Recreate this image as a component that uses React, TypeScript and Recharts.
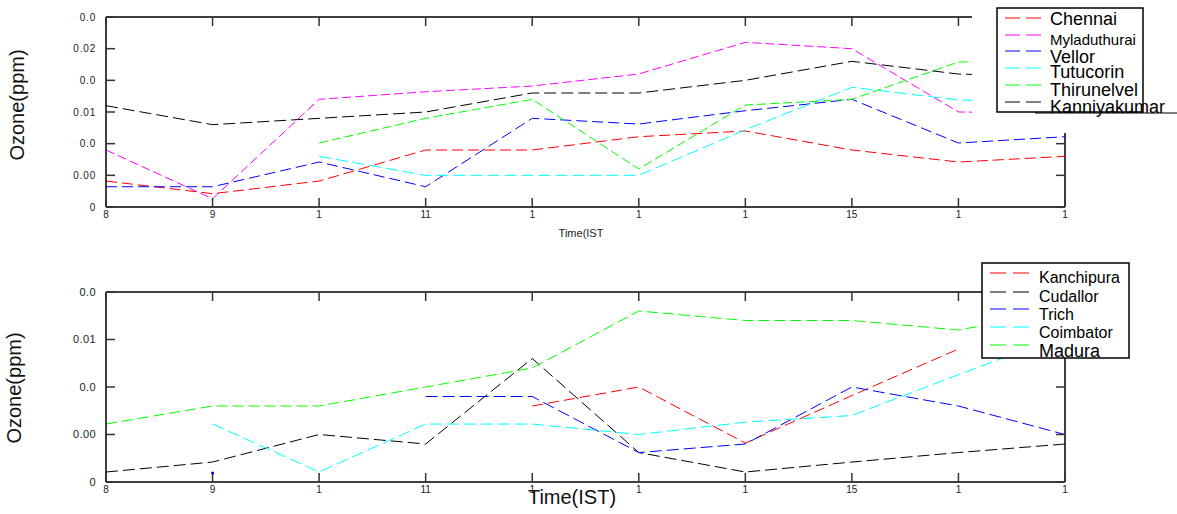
import React from 'react';
import { LineChart, Line, XAxis, YAxis, ReferenceLine } from 'recharts';

const hours = [8, 9, 10, 11, 12, 13, 14, 15, 16, 17];
const xTickLabels = ['8', '9', '1', '11', '1', '1', '1', '15', '1', '1'];

const topYTicks = [0, 0.005, 0.01, 0.015, 0.02, 0.025, 0.03];
const topYTickLabels = ['0', '0.00', '0.0', '0.01', '0.0', '0.02', '0.0'];
const bottomYTicks = [0, 0.005, 0.01, 0.015, 0.02];
const bottomYTickLabels = ['0', '0.00', '0.0', '0.01', '0.0'];

// Top panel
const chennai = [0.0041, 0.0021, 0.0041, 0.009, 0.009, 0.0111, 0.012, 0.009, 0.0071, 0.008];
const myladuthurai = [0.009, 0.0013, 0.017, 0.0182, 0.0191, 0.021, 0.026, 0.025, 0.015, 0.0148];
const vellor = [0.0032, 0.0032, 0.0071, 0.0032, 0.014, 0.0131, 0.0152, 0.017, 0.0101, 0.0111];
const tutucorin = [null, null, 0.008, 0.005, 0.005, 0.005, 0.0122, 0.0189, 0.0169, 0.0165];
const thirunelvel = [null, null, 0.0101, 0.014, 0.017, 0.006, 0.0161, 0.017, 0.0229, 0.023];
const kanniyakumar = [0.016, 0.013, 0.014, 0.015, 0.018, 0.018, 0.02, 0.023, 0.021, 0.0205];

// Bottom panel
const kanchipura = [null, null, null, null, 0.008, 0.01, 0.0041, 0.0091, 0.014, null];
const cudallor = [0.00105, 0.0021, 0.005, 0.004, 0.013, 0.0031, 0.00105, 0.0021, 0.0031, 0.004];
const trich = [null, 0.00095, null, 0.009, 0.009, 0.0031, 0.004, 0.01, 0.008, 0.005];
const coimbator = [null, 0.0061, 0.00105, 0.0061, 0.0061, 0.005, 0.0063, 0.007, 0.0113, 0.0155];
const madura = [0.0061, 0.008, 0.008, 0.01, 0.012, 0.018, 0.017, 0.017, 0.016, 0.018];

const topSeries = [
  { key: 'Chennai', values: chennai, color: '#ff0000', dash: '11 5' },
  { key: 'Myladuthurai', values: myladuthurai, color: '#ff00ff', dash: '9 4' },
  { key: 'Vellor', values: vellor, color: '#0000ff', dash: '11 5' },
  { key: 'Tutucorin', values: tutucorin, color: '#00ffff', dash: '12 5' },
  { key: 'Thirunelvel', values: thirunelvel, color: '#00ff00', dash: '9 4' },
  { key: 'Kanniyakumar', values: kanniyakumar, color: '#000000', dash: '12 5' },
];

const bottomSeries = [
  { key: 'Kanchipura', values: kanchipura, color: '#ff0000', dash: '11 5' },
  { key: 'Cudallor', values: cudallor, color: '#000000', dash: '12 5' },
  { key: 'Trich', values: trich, color: '#0000ff', dash: '12 5' },
  { key: 'Coimbator', values: coimbator, color: '#00ffff', dash: '12 5' },
  { key: 'Madura', values: madura, color: '#00ff00', dash: '11 5' },
];

const topData = hours.map((h, i) => {
  const row: any = { hour: h };
  topSeries.forEach((s) => (row[s.key] = s.values[i]));
  return row;
});
const bottomData = hours.map((h, i) => {
  const row: any = { hour: h };
  bottomSeries.forEach((s) => (row[s.key] = s.values[i]));
  return row;
});

const FONT = '"Liberation Sans", Arial, Helvetica, sans-serif';
const TICK_COLOR = '#333';
const TICK_LEN = 9;
const axisLineStyle = { stroke: '#000', strokeWidth: 1.5 };

const bad = (n: any) => n == null || Number.isNaN(Number(n));

function isolatedDot(values: (number | null)[], color: string) {
  return (props: any) => {
    const { index, cx, cy } = props;
    const v = values[index];
    const prev = index > 0 ? values[index - 1] : null;
    const next = index < values.length - 1 ? values[index + 1] : null;
    if (v != null && prev == null && next == null && !bad(cx) && !bad(cy)) {
      return <circle key={`d${index}`} cx={cx} cy={cy} r={1.6} fill={color} stroke="none" />;
    }
    return <g key={`d${index}`} />;
  };
}

// Tick-mark "dots": drawn at positions given by the chart's own scales.
function vTickDot(dir: 1 | -1) {
  return (props: any) => {
    const { index, cx, cy } = props;
    if (bad(cx) || bad(cy)) return <g key={`v${index}`} />;
    return (
      <line
        key={`v${index}`}
        x1={cx}
        x2={cx}
        y1={cy}
        y2={cy + dir * TICK_LEN}
        stroke={TICK_COLOR}
        strokeWidth={1.5}
      />
    );
  };
}
function hTickDot(lastIndex: number) {
  return (props: any) => {
    const { index, cx, cy } = props;
    if (bad(cx) || bad(cy) || (index !== 0 && index !== lastIndex)) return <g key={`h${index}`} />;
    const dir = index === 0 ? 1 : -1;
    return (
      <line
        key={`h${index}`}
        x1={cx}
        x2={cx + dir * TICK_LEN}
        y1={cy}
        y2={cy}
        stroke={TICK_COLOR}
        strokeWidth={1.5}
      />
    );
  };
}

function Panel(props: {
  data: any[];
  series: any[];
  height: number;
  margin: any;
  yTicks: number[];
  yLabels: string[];
  yFont: number;
  ySpacing: number;
}) {
  const { data, series, height, margin, yTicks, yLabels, yFont, ySpacing } = props;
  const domain = [yTicks[0], yTicks[yTicks.length - 1]];
  const first = hours[0];
  const last = hours[hours.length - 1];
  return (
    <LineChart width={1177} height={height} data={data} margin={margin}>
      <XAxis
        xAxisId="b"
        dataKey="hour"
        type="category"
        scale="point"
        padding={{ left: 0, right: 0 }}
        interval={0}
        height={30}
        tickSize={0}
        tickMargin={4}
        tickLine={false}
        axisLine={axisLineStyle}
        tickFormatter={(_v: any, i: number) => xTickLabels[i]}
        tick={{ fontSize: 10, fill: '#222', fontFamily: FONT }}
      />
      <YAxis
        yAxisId="l"
        type="number"
        domain={domain}
        ticks={yTicks}
        interval={0}
        width={106}
        tickSize={0}
        tickMargin={10}
        tickLine={false}
        axisLine={axisLineStyle}
        tickFormatter={(v: number) => yLabels[yTicks.indexOf(v)]}
        tick={{ fontSize: yFont, fill: '#222', fontFamily: FONT, letterSpacing: ySpacing }}
      />
      {/* frame: top and right borders */}
      <ReferenceLine xAxisId="b" yAxisId="l" y={domain[1]} stroke="#000" strokeWidth={1.5} ifOverflow="visible" />
      <ReferenceLine xAxisId="b" yAxisId="l" x={last} stroke="#000" strokeWidth={1.5} ifOverflow="visible" />

      {/* inward tick marks on top and bottom borders */}
      <Line
        xAxisId="b"
        yAxisId="l"
        dataKey={() => domain[1]}
        stroke="none"
        dot={vTickDot(1)}
        activeDot={false}
        isAnimationActive={false}
        legendType="none"
      />
      <Line
        xAxisId="b"
        yAxisId="l"
        dataKey={() => domain[0]}
        stroke="none"
        dot={vTickDot(-1)}
        activeDot={false}
        isAnimationActive={false}
        legendType="none"
      />
      {/* inward tick marks on left and right borders */}
      {yTicks.map((t) => (
        <Line
          key={`yt${t}`}
          xAxisId="b"
          yAxisId="l"
          dataKey={(row: any) => (row.hour === first || row.hour === last ? t : null)}
          stroke="none"
          dot={hTickDot(hours.length - 1)}
          activeDot={false}
          connectNulls={false}
          isAnimationActive={false}
          legendType="none"
        />
      ))}

      {series.map((s) => (
        <Line
          key={s.key}
          xAxisId="b"
          yAxisId="l"
          type="linear"
          dataKey={s.key}
          stroke={s.color}
          strokeWidth={1}
          strokeDasharray={s.dash}
          dot={isolatedDot(s.values, s.color)}
          activeDot={false}
          connectNulls={false}
          isAnimationActive={false}
        />
      ))}
    </LineChart>
  );
}

const topLegendRows = [
  { lineY: 18, textY: 19, size: 18 },
  { lineY: 35, textY: 39, size: 15 },
  { lineY: 51, textY: 57, size: 18 },
  { lineY: 68, textY: 72, size: 18 },
  { lineY: 85, textY: 90, size: 18 },
  { lineY: 102, textY: 107, size: 18 },
];
const bottomLegendRows = [
  { lineY: 273, textY: 277, size: 16 },
  { lineY: 292, textY: 296, size: 16 },
  { lineY: 309, textY: 314, size: 16 },
  { lineY: 327, textY: 332, size: 16 },
  { lineY: 345, textY: 351, size: 18 },
];

export default function App() {
  return (
    <div
      style={{
        position: 'absolute',
        left: 0,
        top: 0,
        width: 1177,
        height: 514,
        background: '#fff',
        fontFamily: FONT,
        overflow: 'hidden',
      }}
    >
      <div style={{ position: 'absolute', left: 0, top: 0 }}>
        <Panel
          data={topData}
          series={topSeries}
          height={250}
          margin={{ top: 17, right: 112, bottom: 13, left: 0 }}
          yTicks={topYTicks}
          yLabels={topYTickLabels}
          yFont={10}
          ySpacing={0.8}
        />
      </div>
      <div style={{ position: 'absolute', left: 0, top: 250 }}>
        <Panel
          data={bottomData}
          series={bottomSeries}
          height={264}
          margin={{ top: 42, right: 112, bottom: 2, left: 0 }}
          yTicks={bottomYTicks}
          yLabels={bottomYTickLabels}
          yFont={11}
          ySpacing={0.4}
        />
      </div>
      <svg
        width={1177}
        height={514}
        style={{ position: 'absolute', left: 0, top: 0, pointerEvents: 'none' }}
        fontFamily={FONT}
      >
        <text transform="translate(17,105) rotate(-90)" textAnchor="middle" dominantBaseline="central" fontSize={20} fill="#111">
          Ozone(ppm)
        </text>
        <text transform="translate(14,388) rotate(-90)" textAnchor="middle" dominantBaseline="central" fontSize={20} fill="#111">
          Ozone(ppm)
        </text>
        <text x={581} y={233} textAnchor="middle" dominantBaseline="central" fontSize={11} fill="#222">
          Time(IST
        </text>
        <text x={572} y={497} textAnchor="middle" dominantBaseline="central" fontSize={20} fill="#111">
          Time(IST)
        </text>

        <rect x={972} y={0} width={205} height={133} fill="#fff" />
        <rect x={997} y={8} width={146} height={104} fill="#fff" stroke="#000" strokeWidth={1.5} />
        <line x1={1035} y1={113} x2={1177} y2={113} stroke="#000" strokeWidth={1.2} />
        {topSeries.map((s, i) => (
          <g key={s.key}>
            <line
              x1={1005}
              x2={1042}
              y1={topLegendRows[i].lineY}
              y2={topLegendRows[i].lineY}
              stroke={s.color}
              strokeWidth={1}
              strokeDasharray="15 6"
            />
            <text x={1050} y={topLegendRows[i].textY} dominantBaseline="central" fontSize={topLegendRows[i].size} fill="#000">
              {s.key}
            </text>
          </g>
        ))}

        <rect x={982} y={263} width={147} height={95} fill="#fff" stroke="#000" strokeWidth={1.5} />
        {bottomSeries.map((s, i) => (
          <g key={s.key}>
            <line
              x1={990}
              x2={1035}
              y1={bottomLegendRows[i].lineY}
              y2={bottomLegendRows[i].lineY}
              stroke={s.color}
              strokeWidth={1}
              strokeDasharray="16 7"
            />
            <text x={1039} y={bottomLegendRows[i].textY} dominantBaseline="central" fontSize={bottomLegendRows[i].size} fill="#000">
              {s.key}
            </text>
          </g>
        ))}
      </svg>
    </div>
  );
}
